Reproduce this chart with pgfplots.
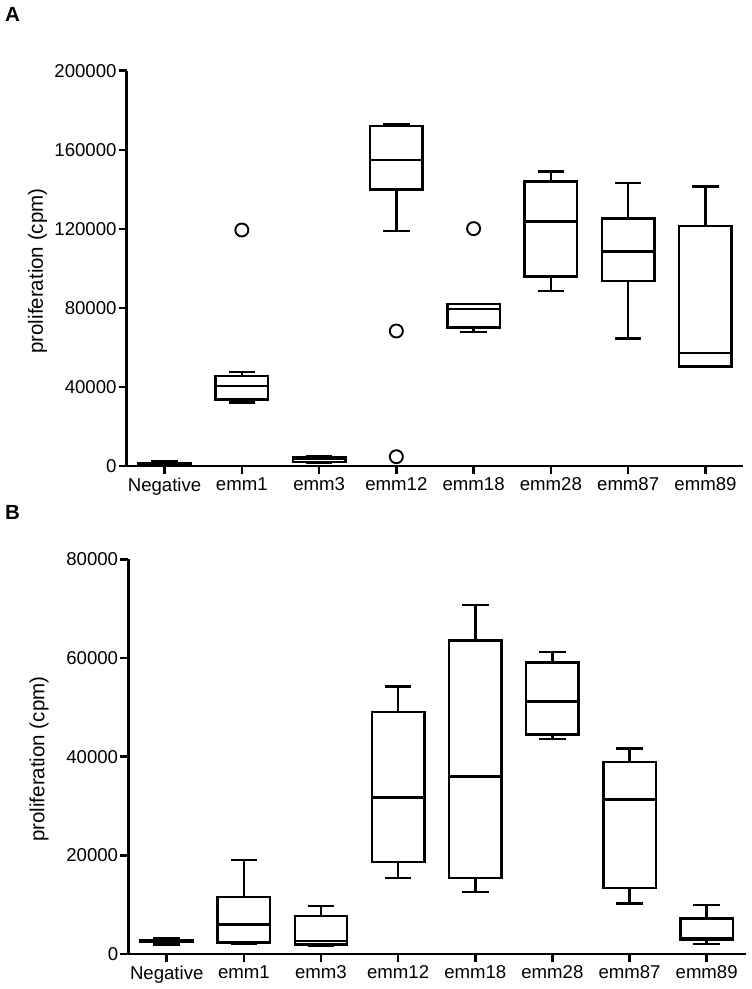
\documentclass[border=0pt]{standalone}
\usepackage{fontspec}
\setmainfont{Liberation Sans}
\usepackage{pgfplots}
\pgfplotsset{compat=1.18}
% box: #1 position, #2 lower whisker, #3 lower quartile, #4 median, #5 upper quartile, #6 upper whisker
\newcommand\bp[6]{%
  \pgfmathsetmacro\xl{#1-0.34}\pgfmathsetmacro\xr{#1+0.34}%
  \pgfmathsetmacro\cl{#1-0.1725}\pgfmathsetmacro\cR{#1+0.1725}%
  \edef\doplot{%
    \noexpand\addplot[bx] coordinates {(#1,#5) (#1,#6)};
    \noexpand\addplot[bx] coordinates {(\cl,#6) (\cR,#6)};
    \noexpand\addplot[bx] coordinates {(#1,#3) (#1,#2)};
    \noexpand\addplot[bx] coordinates {(\cl,#2) (\cR,#2)};
    \noexpand\addplot[bx, fill=none] coordinates {(\xl,#3) (\xr,#3) (\xr,#5) (\xl,#5)} --cycle;
    \noexpand\addplot[bx] coordinates {(\xl,#4) (\xr,#4)};
  }\doplot}
\begin{document}
\begin{tikzpicture}
\path[use as bounding box] (0pt,0pt) rectangle (752pt,989pt);
\pgfplotsset{
  mybox/.style={
    scale only axis,
    axis lines=left,
    axis line style={-, line width=2.5pt},
    xtick={0,...,7},
    xticklabels={Negative,emm1,emm3,emm12,emm18,emm28,emm87,emm89},
    tick align=outside,
    major tick length=8pt,
    every tick/.style={black, line width=2.5pt},
    tick label style={font=\fontsize{18.6}{20}\selectfont},
    yticklabel style={inner sep=2pt},
    /pgf/number format/assume math mode=true,
    /pgf/number format/fixed,
    /pgf/number format/precision=0,
    /pgf/number format/1000 sep={},
    scaled y ticks=false,
    ylabel={proliferation (cpm)},
    clip=false,
  },
  bx/.style={black, line width=2.5pt, solid, mark=none, line join=miter},
  outl/.style={black, only marks, mark=o, mark size=6.5pt, mark options={line width=1.9pt, fill=none}},
}
\node[anchor=base west, inner sep=0pt, font=\bfseries\fontsize{20.5}{22}\selectfont] at (5pt,967.3pt) {A};
\node[anchor=base west, inner sep=0pt, font=\bfseries\fontsize{20.5}{22}\selectfont] at (5pt,469pt) {B};
% Panel A
\begin{axis}[mybox,
  at={(126.7pt,523pt)}, anchor=south west,
  width=616.6pt, height=395.3pt,
  xmin=-0.49, xmax=7.49, ymin=0, ymax=200000,
  ytick={0,40000,80000,120000,160000,200000},
  ylabel style={font=\fontsize{20.5}{22}\selectfont, at={(axis description cs:-0.1447,0.493)}, anchor=center},
]
\bp{0}{500}{1100}{1300}{1500}{2200}
\bp{1}{32000}{33750}{40500}{45500}{47500}
\bp{2}{1500}{2000}{3500}{4500}{5000}
\bp{3}{119000}{140000}{154800}{172000}{173000}
\bp{4}{67700}{70000}{79400}{82000}{82000}
\bp{5}{88500}{95800}{123800}{143900}{148900}
\bp{6}{64400}{93600}{108400}{125100}{143200}
\bp{7}{50450}{50450}{57200}{121300}{141300}
\addplot[outl] coordinates {(1,119400) (3,68300) (3,4700) (4,120100)};
\end{axis}
% Panel B
\begin{axis}[mybox,
  at={(128.3pt,35pt)}, anchor=south west,
  width=617.7pt, height=394.7pt,
  xmin=-0.498, xmax=7.51, ymin=0, ymax=80000,
  ytick={0,20000,40000,60000,80000},
  ylabel style={font=\fontsize{20.5}{22}\selectfont, at={(axis description cs:-0.1443,0.4935)}, anchor=center},
]
\bp{0}{1900}{2400}{2600}{2800}{3250}
\bp{1}{2030}{2300}{6000}{11600}{19050}
\bp{2}{1600}{1900}{2600}{7700}{9700}
\bp{3}{15400}{18650}{31700}{49050}{54200}
\bp{4}{12600}{15400}{35950}{63500}{70700}
\bp{5}{43600}{44450}{51150}{59100}{61200}
\bp{6}{10200}{13400}{31350}{38900}{41700}
\bp{7}{2000}{2850}{3200}{7230}{9950}
\end{axis}
\end{tikzpicture}
\end{document}
